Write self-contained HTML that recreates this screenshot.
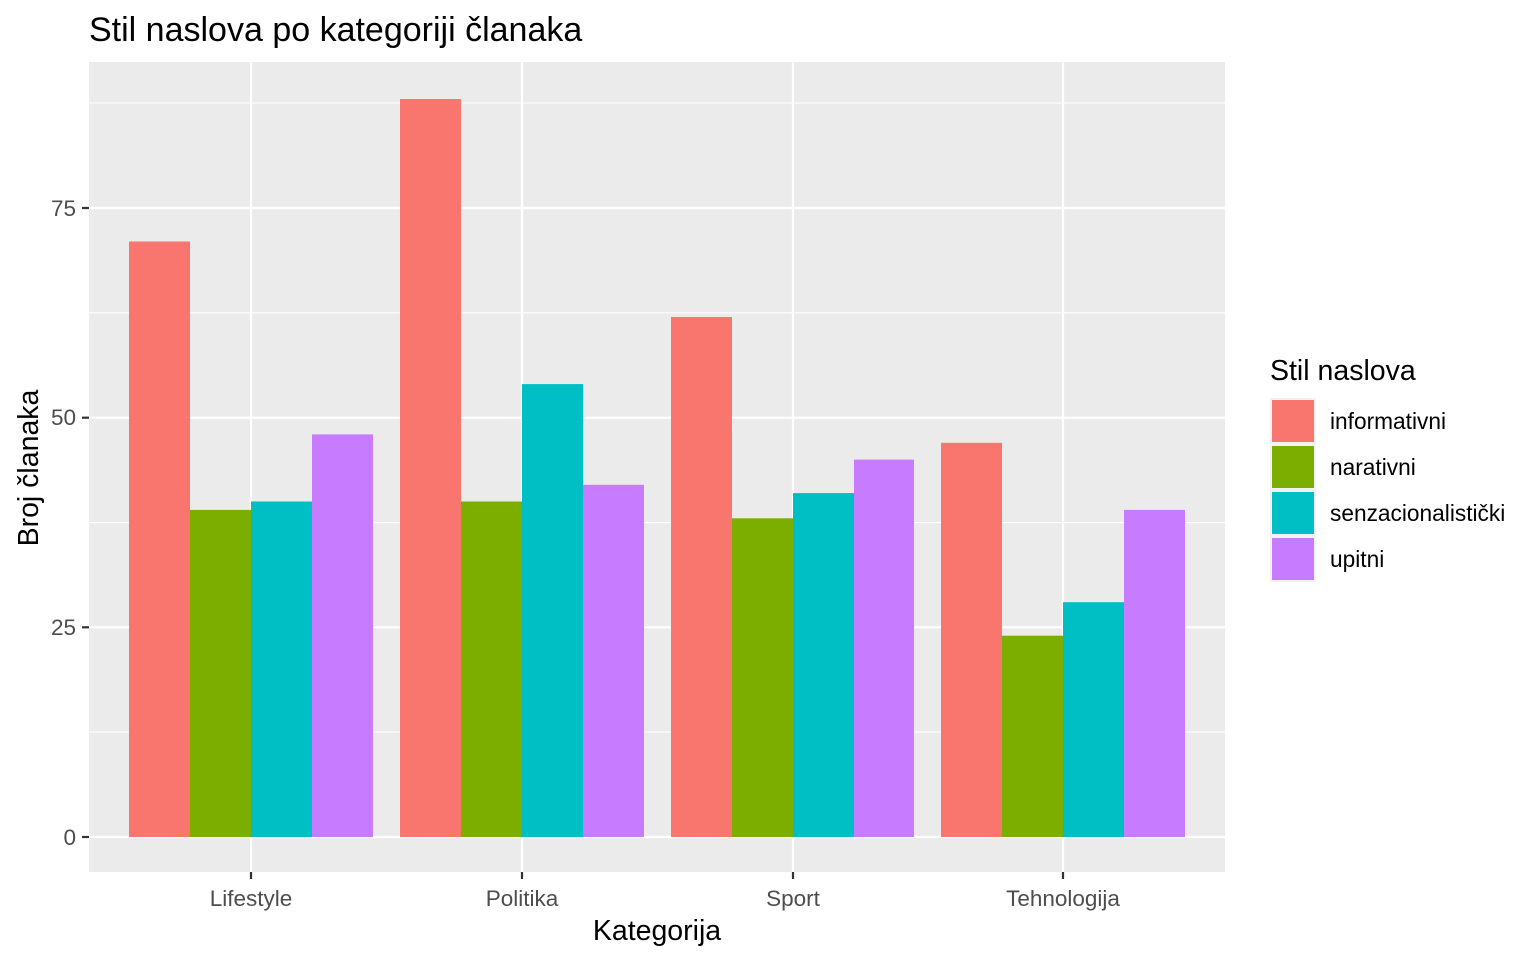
<!DOCTYPE html>
<html><head><meta charset="utf-8"><style>body{margin:0;background:#fff}svg{display:block}text{font-family:"Liberation Sans",Arial,sans-serif}</style></head>
<body>
<svg width="1536" height="960" viewBox="0 0 1536 960">
<rect width="1536" height="960" fill="#fff"/>
<rect x="89" y="62" width="1136" height="810" fill="#ebebeb"/>
<g stroke="#fff" stroke-width="1.1">
<line x1="89" x2="1225" y1="732" y2="732"/><line x1="89" x2="1225" y1="522.6" y2="522.6"/>
<line x1="89" x2="1225" y1="312.8" y2="312.8"/><line x1="89" x2="1225" y1="103" y2="103"/>
</g>
<g stroke="#fff" stroke-width="2.2">
<line x1="89" x2="1225" y1="837" y2="837"/><line x1="89" x2="1225" y1="627.3" y2="627.3"/>
<line x1="89" x2="1225" y1="417.7" y2="417.7"/><line x1="89" x2="1225" y1="208" y2="208"/>
<line x1="251" x2="251" y1="62" y2="872"/><line x1="522" x2="522" y1="62" y2="872"/>
<line x1="793" x2="793" y1="62" y2="872"/><line x1="1063" x2="1063" y1="62" y2="872"/>
</g>
<g>
<rect x="129" y="241.5" width="61" height="595.5" fill="#F8766D"/>
<rect x="190" y="509.9" width="61" height="327.1" fill="#7CAE00"/>
<rect x="251" y="501.5" width="61" height="335.5" fill="#00BFC4"/>
<rect x="312" y="434.4" width="61" height="402.6" fill="#C77CFF"/>
<rect x="400" y="99" width="61" height="738" fill="#F8766D"/>
<rect x="461" y="501.5" width="61" height="335.5" fill="#7CAE00"/>
<rect x="522" y="384.1" width="61" height="452.9" fill="#00BFC4"/>
<rect x="583" y="484.8" width="61" height="352.2" fill="#C77CFF"/>
<rect x="671" y="317.0" width="61" height="520" fill="#F8766D"/>
<rect x="732" y="518.3" width="61" height="318.7" fill="#7CAE00"/>
<rect x="793" y="493.1" width="61" height="343.9" fill="#00BFC4"/>
<rect x="854" y="459.6" width="60" height="377.4" fill="#C77CFF"/>
<rect x="941" y="442.8" width="61" height="394.2" fill="#F8766D"/>
<rect x="1002" y="635.7" width="61" height="201.3" fill="#7CAE00"/>
<rect x="1063" y="602.2" width="61" height="234.8" fill="#00BFC4"/>
<rect x="1124" y="509.9" width="61" height="327.1" fill="#C77CFF"/>
</g>
<g stroke="#333" stroke-width="2.2">
<line x1="82" x2="89" y1="837" y2="837"/><line x1="82" x2="89" y1="627.3" y2="627.3"/>
<line x1="82" x2="89" y1="417.7" y2="417.7"/><line x1="82" x2="89" y1="208" y2="208"/>
<line x1="251" x2="251" y1="872" y2="879"/><line x1="522" x2="522" y1="872" y2="879"/>
<line x1="793" x2="793" y1="872" y2="879"/><line x1="1063" x2="1063" y1="872" y2="879"/>
</g>
<g fill="#4d4d4d" font-size="22.5" text-anchor="end">
<text x="76" y="845">0</text><text x="76" y="635">25</text><text x="76" y="425">50</text><text x="76" y="216">75</text>
</g>
<g fill="#4d4d4d" font-size="22.5" text-anchor="middle">
<text x="251" y="906">Lifestyle</text><text x="522" y="906">Politika</text><text x="793" y="906">Sport</text><text x="1063" y="906">Tehnologija</text>
</g>
<text x="657" y="940" font-size="28.5" text-anchor="middle" fill="#000">Kategorija</text>
<text transform="translate(38,468) rotate(-90)" font-size="28.5" text-anchor="middle" fill="#000">Broj članaka</text>
<text x="89" y="41" font-size="34" fill="#000">Stil naslova po kategoriji članaka</text>
<text x="1270" y="380" font-size="28.5" fill="#000">Stil naslova</text>
<g>
<rect x="1270" y="398" width="46" height="46" fill="#f2f2f2"/><rect x="1272" y="400" width="42" height="42" fill="#F8766D"/>
<rect x="1270" y="444" width="46" height="46" fill="#f2f2f2"/><rect x="1272" y="446" width="42" height="42" fill="#7CAE00"/>
<rect x="1270" y="490" width="46" height="46" fill="#f2f2f2"/><rect x="1272" y="492" width="42" height="42" fill="#00BFC4"/>
<rect x="1270" y="536" width="46" height="46" fill="#f2f2f2"/><rect x="1272" y="538" width="42" height="42" fill="#C77CFF"/>
</g>
<g font-size="22.7" fill="#000">
<text x="1330" y="429">informativni</text><text x="1330" y="475">narativni</text>
<text x="1330" y="521">senzacionalistički</text><text x="1330" y="567">upitni</text>
</g>
</svg>
</body></html>
